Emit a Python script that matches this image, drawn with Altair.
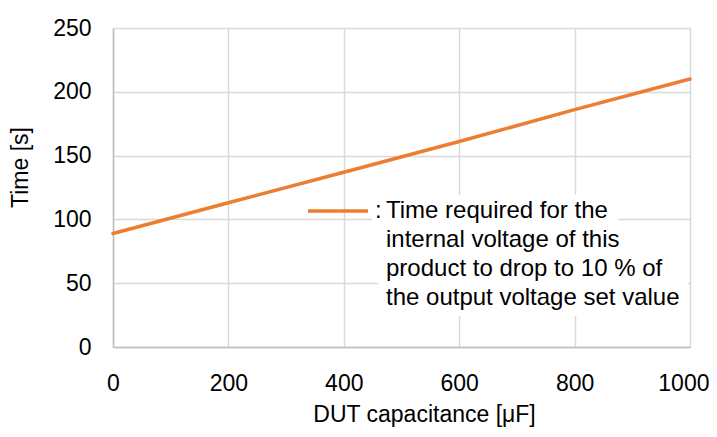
import altair as alt
import pandas as pd

# ---- data ----
capacitance = [0, 200, 400, 600, 800, 1000]
time_s = [89, 113, 137, 161, 186, 210]
x_ticks = [0, 200, 400, 600, 800, 1000]
y_ticks = [0, 50, 100, 150, 200, 250]
legend_lines = [
    "Time required for the",
    "internal voltage of this",
    "product to drop to 10 % of",
    "the output voltage set value",
]

df = pd.DataFrame({"cap": capacitance, "time": time_s})

W, H = 577, 319
FONT = "Liberation Sans, Arial, Helvetica, sans-serif"
ORANGE = "#ed7d31"
one = alt.Data(values=[{"k": 1}])

x = alt.X(
    "cap:Q",
    scale=alt.Scale(domain=[0, 1000], nice=False),
    axis=alt.Axis(
        values=x_ticks, format="d", labelFlush=False, title="DUT capacitance [μF]",
        labelBaseline="middle", labelPadding=36,
        labelAlign={"condition": {"test": "datum.value == 1000", "value": "right"}, "value": "center"},
        labelOffset={"condition": {"test": "datum.value == 1000", "value": 19}, "value": 0},
        titleX=311, titleY=67, titleFontSize=23,
        titleBaseline="middle", titleAnchor="middle", titleAlign="center",
    ),
)
y = alt.Y(
    "time:Q",
    scale=alt.Scale(domain=[0, 250], nice=False),
    axis=alt.Axis(
        values=y_ticks, format="d", title="Time [s]", labelPadding=22,
        titleX=-93, titleY=139, titleBaseline="middle", titleAlign="center",
        titleAngle=270,
    ),
)

line = alt.Chart(df).mark_line(color=ORANGE, strokeWidth=3.5, strokeCap="round").encode(x=x, y=y)

box1 = alt.Chart(one).mark_rect(color="white").encode(
    x=alt.value(259), x2=alt.value(505), y=alt.value(167), y2=alt.value(199))
box2 = alt.Chart(one).mark_rect(color="white").encode(
    x=alt.value(265), x2=alt.value(575), y=alt.value(198), y2=alt.value(288))
leg_line = alt.Chart(one).mark_rule(color=ORANGE, strokeWidth=3.5).encode(
    x=alt.value(195), x2=alt.value(255), y=alt.value(183))
colon = alt.Chart(one).mark_text(
    text=":", font=FONT, fontSize=24, align="left", baseline="alphabetic", color="black"
).encode(x=alt.value(262), y=alt.value(190))
leg_text = alt.Chart(one).mark_text(
    text=legend_lines, font=FONT, fontSize=24, align="left", baseline="alphabetic",
    lineHeight=29, color="black"
).encode(x=alt.value(273), y=alt.value(190))

chart = (
    alt.layer(line, box1, box2, leg_line, colon, leg_text)
    .properties(
        width=W, height=H,
        autosize=alt.AutoSizeParams(type="none"),
        padding={"left": 105, "top": 20, "right": 19, "bottom": 82},
    )
    .configure_view(stroke=None)
    .configure_axis(
        grid=True, gridColor="#d9d9d9", gridWidth=1.5,
        domainColor="#bfbfbf", domainWidth=1.5,
        ticks=False, tickSize=0,
        labelFont=FONT, labelFontSize=23, labelColor="black",
        titleFont=FONT, titleFontSize=23, titleColor="black", titleFontWeight="normal",
    )
)

chart.save("out.html", embed_options={"renderer": "svg", "actions": False})
